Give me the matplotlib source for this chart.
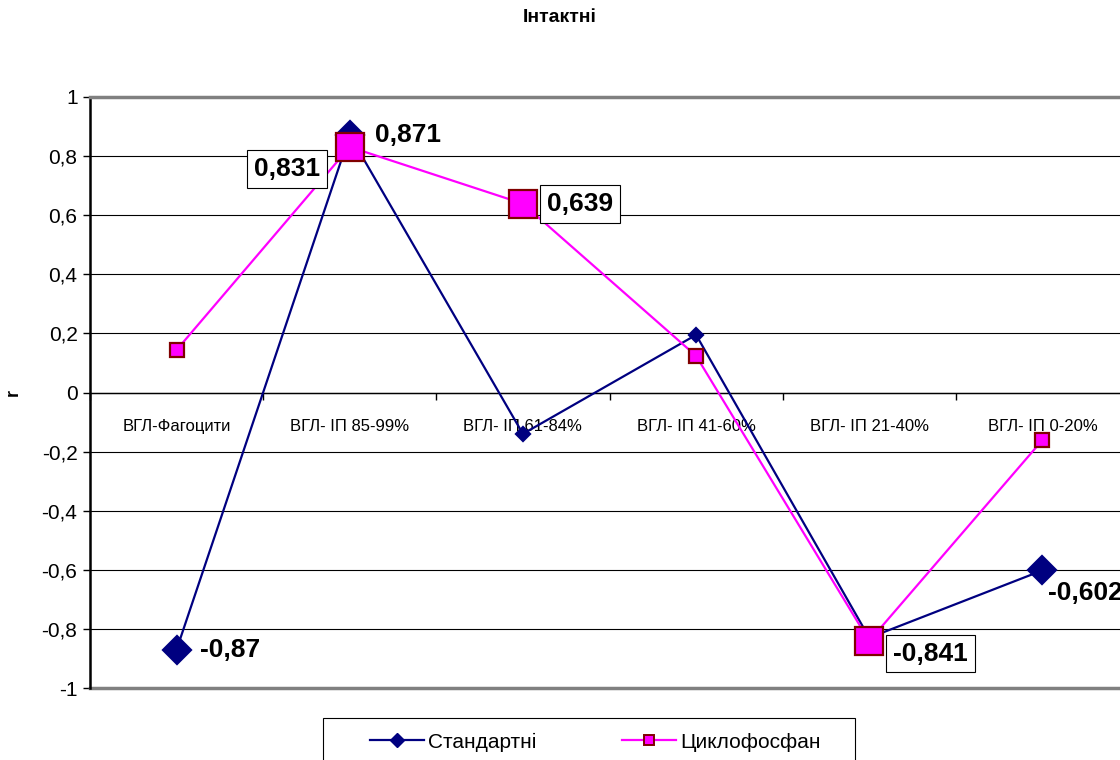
import matplotlib
matplotlib.use('Agg')
import matplotlib.pyplot as plt
from matplotlib.lines import Line2D
from matplotlib.patches import Rectangle
from matplotlib.ticker import FixedLocator, FuncFormatter

plt.rcParams['font.family'] = ['Liberation Sans', 'DejaVu Sans']

categories = ["ВГЛ-Фагоцити", "ВГЛ- ІП 85-99%", "ВГЛ- ІП 61-84%",
              "ВГЛ- ІП 41-60%", "ВГЛ- ІП 21-40%", "ВГЛ- ІП 0-20%"]
standard = [-0.87, 0.871, -0.14, 0.195, -0.83, -0.602]
cyclophosphamide = [0.144, 0.831, 0.639, 0.124, -0.841, -0.161]

# which points carry a value label, and where the label sits (offset in points)
standard_labels = {0: (17, 0), 1: (18, 0), 5: (4, -16)}
cyclo_labels = {1: (-45, -16), 2: (41, 0), 4: (44, -9)}

NAVY = '#000080'
PINK = '#FF00FF'
DARKRED = '#800000'

W, H = 1120, 760
fig = plt.figure(figsize=(W / 100, H / 100), dpi=100)
ax = fig.add_axes([90 / W, 1 - 688 / H, 1039 / W, 591 / H])

x = list(range(len(categories)))


def fmt(v):
    return f"{v:g}".replace('.', ',')


def draw_series(vals, color, marker, mface, medge, labels, boxed, z):
    ax.plot(x, vals, color=color, lw=1.6, zorder=z)
    for i, v in enumerate(vals):
        big = i in labels
        if marker == 'D':
            ms = 14 if big else 7
        else:
            ms = 20 if big else 10
        ax.plot(i, v, marker=marker, ms=ms, mfc=mface, mec=medge,
                mew=1.6, zorder=z + 0.5, clip_on=False)
        if big:
            dx, dy = labels[i]
            bbox = None
            ha = 'left'
            if boxed:
                ha = 'center'
                bbox = dict(boxstyle='square,pad=0.26', fc='white', ec='black', lw=0.8)
            ax.annotate(fmt(v), (i, v), xytext=(dx, dy), textcoords='offset points',
                        ha=ha, va='center', fontsize=19, fontweight='bold',
                        bbox=bbox, zorder=10, annotation_clip=False)


draw_series(standard, NAVY, 'D', NAVY, NAVY, standard_labels, False, 3)
draw_series(cyclophosphamide, PINK, 's', PINK, DARKRED, cyclo_labels, True, 4)

ax.set_xlim(-0.5, len(categories) - 0.5)
ax.set_ylim(-1, 1)

# y axis
yticks = [round(-1 + 0.2 * k, 1) for k in range(11)]
ax.set_yticks(yticks)
ax.yaxis.set_major_formatter(FuncFormatter(lambda v, p: fmt(round(v, 1)) if v != 0 else '0'))
ax.tick_params(axis='y', direction='out', length=5, width=1, pad=4, labelsize=15)
ax.yaxis.grid(True, color='black', lw=0.8)
ax.set_axisbelow(True)
ax.set_ylabel('r', fontsize=13, fontweight='bold')
ax.yaxis.set_label_coords(-(90 - 22) / 1039, 0.5)

# category axis crosses at zero
ax.spines['bottom'].set_position(('data', 0))
ax.spines['bottom'].set_linewidth(1)
ax.set_xticks(x)
ax.set_xticklabels(categories, fontsize=12)
ax.xaxis.set_minor_locator(FixedLocator([i + 0.5 for i in range(-1, len(categories))]))
ax.tick_params(axis='x', which='major', length=0, pad=19)
ax.tick_params(axis='x', which='minor', direction='out', length=5, width=1)

ax.spines['left'].set_linewidth(1.8)
ax.spines['top'].set_color('#808080')
ax.spines['top'].set_linewidth(2.5)
ax.spines['right'].set_visible(False)
ax.axhline(-1, color='#808080', lw=2.5, zorder=2, clip_on=False)

fig.text(0.5, 1 - 18 / H, 'Інтактні', ha='center', va='center',
         fontsize=14, fontweight='bold')

# legend
fig.patches.append(Rectangle((323 / W, 1 - 775 / H), (855 - 323) / W, (775 - 718) / H,
                             transform=fig.transFigure, fc='white', ec='black', lw=0.8))
handles = [
    Line2D([], [], color=NAVY, lw=1.6, marker='D', ms=7.5, mfc=NAVY, mec=NAVY),
    Line2D([], [], color=PINK, lw=1.6, marker='s', ms=7.5, mfc=PINK, mec=DARKRED, mew=1.4),
]
fig.legend(handles, ['Стандартні', 'Циклофосфан'], loc='center left',
           bbox_to_anchor=(370 / W, 1 - 742 / H), ncol=2, frameon=False,
           fontsize=15, handlelength=2.6, handletextpad=0.2, columnspacing=4.1,
           borderpad=0, borderaxespad=0)

fig.savefig('out.png', dpi=100)
